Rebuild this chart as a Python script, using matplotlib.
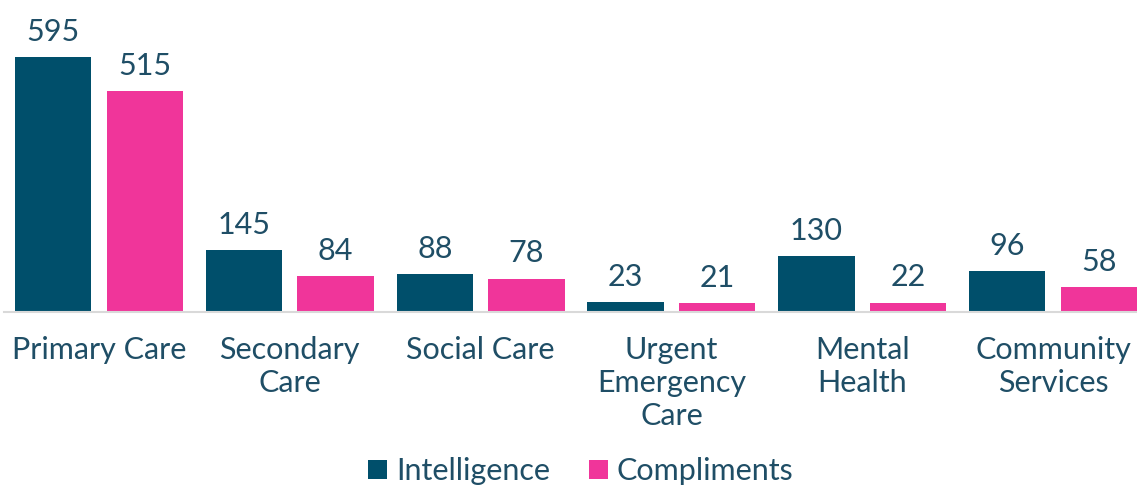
import numpy as np
import matplotlib.pyplot as plt

categories = ["Primary Care", "Secondary\nCare", "Social Care", "Urgent\nEmergency\nCare",
              "Mental\nHealth", "Community\nServices"]
intelligence = [595, 145, 88, 23, 130, 96]
compliments = [515, 84, 78, 21, 22, 58]

dark = "#004F6B"
pink = "#F0359A"
text_col = "#1F4E66"
fs = 22

plt.rcParams["font.family"] = ["Lato", "DejaVu Sans"]

fig = plt.figure(figsize=(11.37, 4.86), dpi=100)
# axes deliberately runs slightly past the right edge, like the source
ax = fig.add_axes([3.6 / 1137, 0.358, 1144.8 / 1137, 0.642])

x = np.arange(len(categories))
w = 0.4
off = 0.24
b1 = ax.bar(x - off, intelligence, w, color=dark, label="Intelligence")
b2 = ax.bar(x + off, compliments, w, color=pink, label="Compliments")

for bars in (b1, b2):
    for r in bars:
        ax.annotate(f"{int(r.get_height())}", (r.get_x() + r.get_width() / 2, r.get_height()),
                    xytext=(0, 8), textcoords="offset points", ha="center", va="bottom",
                    fontsize=fs, color=text_col)

ax.set_xlim(-0.5, len(categories) - 0.5)
ax.set_ylim(0, 728)
ax.set_yticks([])
ax.set_xticks(x)
ax.set_xticklabels(categories, fontsize=fs, color=text_col, linespacing=1.23)
ax.tick_params(axis="x", length=0, pad=17)
for s in ["top", "right", "left"]:
    ax.spines[s].set_visible(False)
ax.spines["bottom"].set_color("#D9D9D9")
ax.spines["bottom"].set_linewidth(1.5)

fig.legend(handles=[b1, b2], loc="center", bbox_to_anchor=(0.511, 0.03), ncol=2,
           frameon=False, fontsize=fs, labelcolor=text_col, handlelength=0.6,
           handleheight=0.6, handletextpad=0.3, columnspacing=1.3)

fig.savefig("out.png", dpi=100)
